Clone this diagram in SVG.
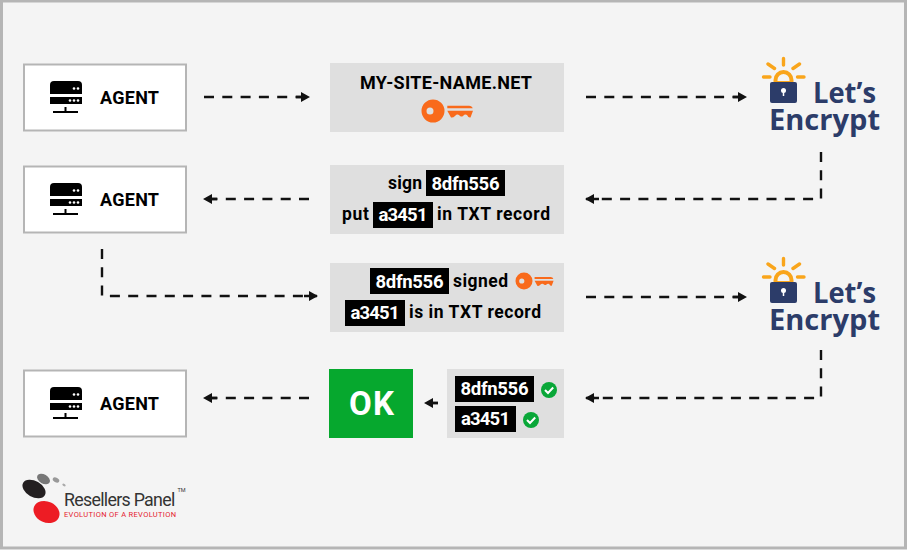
<svg xmlns="http://www.w3.org/2000/svg" width="907" height="550" viewBox="0 0 907 550">
<style>
text{font-family:"Roboto","Liberation Sans",sans-serif;font-weight:700;fill:#000}
.panel{fill:#dfdfdf}
.agent{fill:#fff;stroke:#b5b5b5;stroke-width:2}
.lab{font-size:17.5px}
.agt{font-size:18px}
.tagbg{fill:#000}
.tag{fill:#fff;font-size:18.5px;text-anchor:middle}
.dash{fill:none;stroke:#111;stroke-width:2.4;stroke-dasharray:10 8.3}
.le{fill:#2c3c69;font-family:"Open Sans","Liberation Sans",sans-serif;font-weight:700}
.ray{stroke:#f9a51b;stroke-width:3.4;stroke-linecap:round}
.brandtext{font-weight:400}
</style>
<defs>
<marker id="arr" viewBox="0 0 14 10" refX="13" refY="5" markerWidth="14" markerHeight="10" markerUnits="userSpaceOnUse" orient="auto"><path d="M0 3.800H5V0L14 5L5 10V6.200H0Z" fill="#111"/></marker>
<g id="server"><path d="M50 85a4 4 0 0 1 4-4h24a4 4 0 0 1 4 4v9H50Z" fill="#000"/><rect x="50" y="97" width="32" height="7" fill="#000"/><circle cx="74" cy="88.500" r="1.300" fill="#fff"/><circle cx="78" cy="88.500" r="1.300" fill="#fff"/><circle cx="70" cy="100.500" r="1.300" fill="#fff"/><circle cx="74" cy="100.500" r="1.300" fill="#fff"/><circle cx="78" cy="100.500" r="1.300" fill="#fff"/><path d="M53 112H78M65.500 107V112" stroke="#000" stroke-width="2" fill="none"/></g>
<g id="key"><path fill-rule="evenodd" d="M0-11.500a11.500 11.500 0 1 0 0 23a11.500 11.500 0 0 0 0-23ZM-3-3.500a3.500 3.500 0 1 1 0 7a3.500 3.500 0 0 1 0-7Z" fill="#f96a1b"/><path d="M14.300-5.300H36Q39-5.300 39.700-2.700H14.300ZM14.300-0.300H40L37.500 6.500Q35.500 7 34 4Q32 2.800 30 5Q28 6.500 26 4Q24 2.800 22 5Q20 7 18 6.500Z" fill="#f96a1b"/></g>
<g id="check"><circle r="8" fill="#09a738"/><path d="M-4 0L-1 3L4.200-2.500" fill="none" stroke="#fff" stroke-width="2"/></g>
<g id="letsencrypt"><path d="M775.500 80a8 8 0 0 1 16 0v3h-16Z" fill="none" stroke="#f9a51b" stroke-width="4"/><rect x="770" y="82" width="27" height="21" rx="2" fill="#2c3c69"/><circle cx="783.500" cy="90.500" r="2.500" fill="#fff"/><path d="M783.500 90v6" stroke="#fff" stroke-width="1.500"/><path class="ray" d="M783.500 58.500V65M768 64L774.500 68.500M799.500 64L793 68.500M763.500 77H770M797.500 77H804"/><text class="le" x="813" y="103" font-size="29" textLength="63" lengthAdjust="spacingAndGlyphs">Let’s</text><text class="le" x="769" y="130" font-size="29" textLength="111" lengthAdjust="spacingAndGlyphs">Encrypt</text></g>
</defs>
<rect x="1.500" y="1" width="904" height="547" fill="#f4f4f4" stroke="#b5b5b5" stroke-width="3"/>
<g id="connectors">
<path class="dash" marker-end="url(#arr)" d="M204 97H309"/>
<path class="dash" marker-end="url(#arr)" d="M586 97H746"/>
<path class="dash" marker-end="url(#arr)" d="M821 152V199H586"/>
<path class="dash" marker-end="url(#arr)" d="M309 199H204"/>
<path class="dash" marker-end="url(#arr)" d="M102 249V296H317"/>
<path class="dash" marker-end="url(#arr)" d="M586 297H746"/>
<path class="dash" marker-end="url(#arr)" d="M821 350V398H586"/>
<path class="dash" marker-end="url(#arr)" d="M438 403H425"/>
<path class="dash" marker-end="url(#arr)" d="M309 398H204"/>
</g>
<g id="agent1"><rect class="agent" x="24" y="64.500" width="162" height="66"/><use href="#server"/><text class="agt" x="100" y="104" textLength="59">AGENT</text></g>
<g id="agent2"><rect class="agent" x="24" y="166.500" width="162" height="66"/><use href="#server" y="102"/><text class="agt" x="100" y="206" textLength="59">AGENT</text></g>
<g id="agent3"><rect class="agent" x="24" y="370.500" width="162" height="66"/><use href="#server" y="306"/><text class="agt" x="100" y="410" textLength="59">AGENT</text></g>
<g id="site"><rect class="panel" x="330" y="63" width="234" height="69"/><text x="360" y="88.500" font-size="18" textLength="172">MY-SITE-NAME.NET</text><use href="#key" x="433" y="111"/></g>
<g id="challenge"><rect class="panel" x="330" y="165" width="234" height="69"/><text class="lab" x="388" y="189" textLength="34">sign</text><rect class="tagbg" x="426" y="170" width="79" height="26"/><text class="tag" x="465.500" y="189.500" textLength="68">8dfn556</text><text class="lab" x="342" y="220" textLength="27">put</text><rect class="tagbg" x="373" y="202" width="60" height="26"/><text class="tag" x="403" y="220.500" textLength="49">a3451</text><text class="lab" x="437" y="220" textLength="113">in TXT record</text></g>
<g id="response"><rect class="panel" x="330" y="263" width="234" height="69"/><rect class="tagbg" x="370" y="268" width="79" height="26"/><text class="tag" x="409.500" y="287.500" textLength="68">8dfn556</text><text class="lab" x="453" y="287" textLength="55">signed</text><use href="#key" transform="translate(524 281) scale(.74)"/><rect class="tagbg" x="345" y="300" width="60" height="26"/><text class="tag" x="375" y="318.500" textLength="49">a3451</text><text class="lab" x="409" y="318" textLength="132">is in TXT record</text></g>
<g id="ok"><rect x="329" y="369" width="84" height="69" fill="#06a82e"/><text x="349" y="415" font-size="33" style="fill:#fff" textLength="45">OK</text></g>
<g id="verified"><rect class="panel" x="447" y="369" width="117" height="69"/><rect class="tagbg" x="455" y="376" width="79" height="26"/><text class="tag" x="494.500" y="395" textLength="68">8dfn556</text><use href="#check" x="549" y="390"/><rect class="tagbg" x="455" y="406" width="61" height="26"/><text class="tag" x="485.500" y="425" textLength="49">a3451</text><use href="#check" x="531" y="420"/></g>
<g id="le1"><use href="#letsencrypt"/></g>
<g id="le2"><use href="#letsencrypt" y="200"/></g>
<g id="brand">
<ellipse cx="34" cy="489" rx="12.500" ry="8" fill="#231f20" transform="rotate(30 34 489)"/>
<ellipse cx="43.500" cy="479" rx="7" ry="4.500" fill="#777" transform="rotate(30 43.500 479)"/>
<ellipse cx="56" cy="480" rx="3.500" ry="2.300" fill="#999" transform="rotate(30 56 480)"/>
<ellipse cx="64" cy="485" rx="1.800" ry="1.100" fill="#aaa" transform="rotate(30 64 485)"/>
<ellipse cx="46.500" cy="512" rx="13.500" ry="10.500" fill="#ed1c24" transform="rotate(25 46.500 512)"/>
<text class="brandtext" x="64" y="505.500" font-size="17.800" letter-spacing="-.7" style="fill:#333">Resellers Panel</text>
<text class="brandtext" x="177.500" y="492" font-size="5.500" style="fill:#333">TM</text>
<text class="brandtext" x="64" y="516.500" font-size="7.500" style="fill:#e5202e" textLength="112">EVOLUTION OF A REVOLUTION</text>
</g>
</svg>
